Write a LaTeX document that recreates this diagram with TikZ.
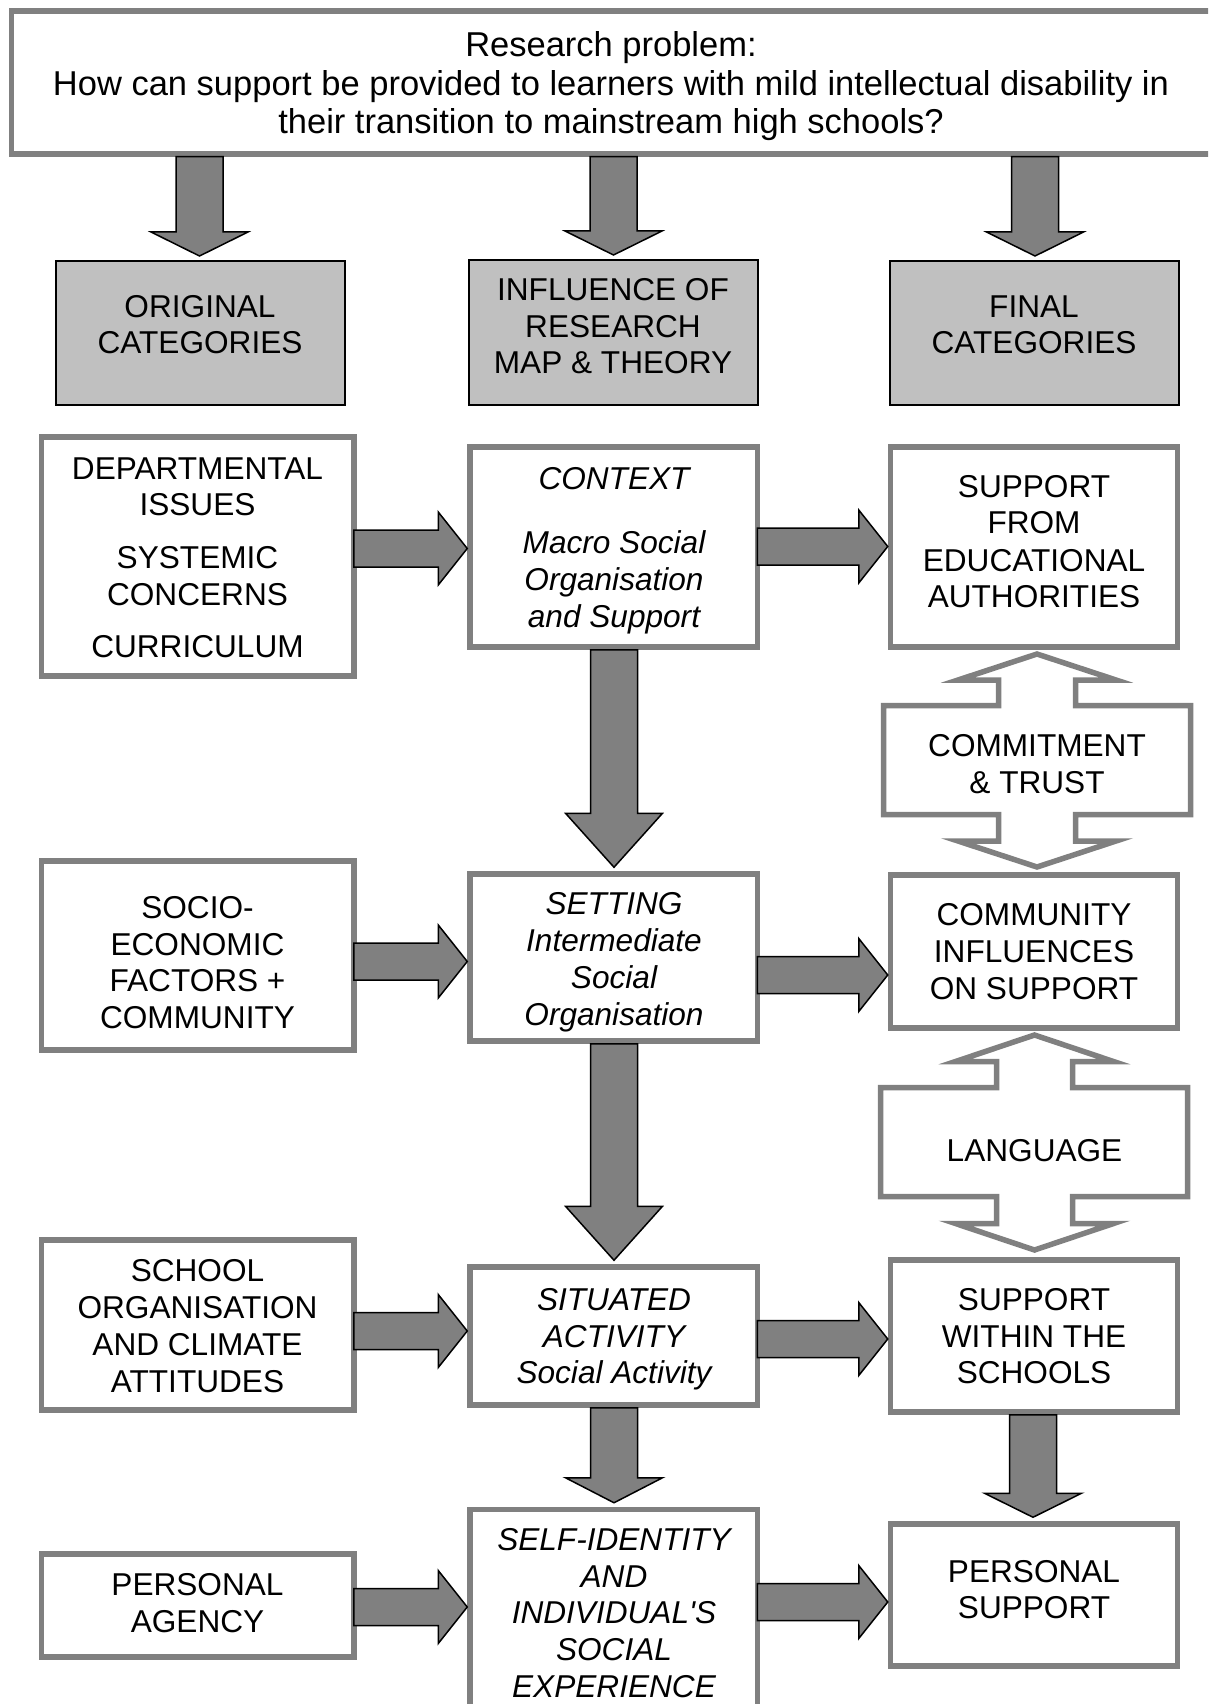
\documentclass[tikz,border=0pt]{standalone}
\usepackage{fontspec}
\setmainfont{Liberation Sans}
\usetikzlibrary{calc,fit}
\definecolor{framegray}{RGB}{128,128,128}
\definecolor{arrowgray}{RGB}{128,128,128}
\definecolor{headgray}{RGB}{192,192,192}
\tikzset{
  frame/.style={draw=framegray, line width=5.5pt, fill=white, inner sep=0pt, line join=miter},
  headbox/.style={draw=black, line width=2pt, fill=headgray, inner sep=0pt},
  blockarrow/.style={draw=black, line width=1.5pt, fill=arrowgray, line join=miter},
  txt/.style={anchor=base, inner sep=0pt, font=\fontsize{31.6}{36}\selectfont},
  itxt/.style={anchor=base, inner sep=0pt, font=\fontsize{31.6}{36}\selectfont\itshape},
  ttl/.style={anchor=base, inner sep=0pt, font=\fontsize{34.5}{39}\selectfont},
}
% block arrow pointing down: from node #1 to node #2 at x = #3, head length #4, name #5
\newcommand\darrow[5]{%
  \coordinate (#5-s) at (#3,0 |- #1.south);
  \coordinate (#5-t) at ($(#3,0 |- #2.north)+(0,-4)$);
  \draw[blockarrow] ($(#5-s)+(-23.5,0)$) -- ($(#5-t)+(-23.5,-#4)$) -- ++(-25,0) -- (#5-t)
    -- ($(#5-t)+(48.5,-#4)$) -- ++(-25,0) -- ($(#5-s)+(23.5,0)$) -- cycle;}
% block arrow pointing right: from node #1 to node #2 at y = #3, name #4
\newcommand\harrow[4]{%
  \coordinate (#4-s) at ($(#1.east |- 0,#3)+(-3,0)$);
  \coordinate (#4-t) at (#2.west |- 0,#3);
  \draw[blockarrow] ($(#4-s)+(0,-18.5)$) -- ($(#4-t)+(-29,-18.5)$) -- ++(0,-18) -- (#4-t)
    -- ($(#4-t)+(-29,36.5)$) -- ++(0,-18) -- ($(#4-s)+(0,18.5)$) -- cycle;}

\begin{document}
\begin{tikzpicture}[x=1pt,y=-1pt]
\path[use as bounding box] (0,0) rectangle (1208,1704);
\clip (0,0) rectangle (1208,1704);

% research problem
\node[frame, fit={(11.5,11) (1215,154)}] (problem) {};

% column headers
\node[headbox, fit={(56,261) (344.5,405)}] (hl) {};
\node[headbox, fit={(468.5,260) (757.5,405)}] (hm) {};
\node[headbox, fit={(890,261) (1178.5,405)}] (hr) {};

% category boxes
\node[frame, fit={(41.5,437) (354,676)}] (dept) {};
\node[frame, fit={(470,447) (757.5,647)}] (ctx) {};
\node[frame, fit={(890.5,447) (1177.5,647)}] (sfrom) {};

\node[frame, fit={(41.5,861) (354,1050)}] (socio) {};
\node[frame, fit={(470,874) (757.5,1041)}] (set) {};
\node[frame, fit={(890.5,875) (1177.5,1028)}] (comm) {};

\node[frame, fit={(41.5,1240) (354,1410)}] (school) {};
\node[frame, fit={(470,1267) (757.5,1405)}] (sit) {};
\node[frame, fit={(890.5,1260) (1177.5,1412)}] (sch) {};

\node[frame, fit={(41.5,1554) (354,1657)}] (agency) {};
\node[frame, fit={(470,1509.5) (757.5,1730)}] (self) {};
\node[frame, fit={(890.5,1524) (1177.5,1666)}] (psup) {};

% up-down callouts between the final categories
\draw[frame] (1037,654) -- (1116,680) -- (1075.5,680) -- (1075.5,705.5) -- (1190.5,705.5)
  -- (1190.5,814.5) -- (1075.5,814.5) -- (1075.5,841) -- (1116,841) -- (1037,867)
  -- (958,841) -- (998.5,841) -- (998.5,814.5) -- (883.5,814.5) -- (883.5,705.5)
  -- (998.5,705.5) -- (998.5,680) -- (958,680) -- cycle;
\draw[frame] (1034.5,1035) -- (1113.5,1061.5) -- (1072.5,1061.5) -- (1072.5,1087.5) -- (1187.5,1087.5)
  -- (1187.5,1196.5) -- (1072.5,1196.5) -- (1072.5,1223.5) -- (1113.5,1223.5) -- (1034.5,1250)
  -- (955.5,1223.5) -- (996.5,1223.5) -- (996.5,1196.5) -- (880.5,1196.5) -- (880.5,1087.5)
  -- (996.5,1087.5) -- (996.5,1061.5) -- (955.5,1061.5) -- cycle;

% block arrows
\darrow{problem}{hl}{199.5}{24}{a1}
\darrow{problem}{hm}{613.5}{24}{a2}
\darrow{problem}{hr}{1035}{24}{a3}
\darrow{ctx}{set}{614}{54}{a4}
\darrow{set}{sit}{614}{54}{a5}
\darrow{sit}{self}{614}{25}{a6}
\darrow{sch}{psup}{1033}{24}{a7}

\harrow{dept}{ctx}{548.5}{h1}
\harrow{ctx}{sfrom}{546.5}{h2}
\harrow{socio}{set}{961.5}{h3}
\harrow{set}{comm}{975}{h4}
\harrow{school}{sit}{1331}{h5}
\harrow{sit}{sch}{1339}{h6}
\harrow{agency}{self}{1607}{h7}
\harrow{self}{psup}{1602}{h8}

% texts
\foreach \yb/\words [count=\i] in {57/Research problem:,
  96/How can support be provided to learners with mild intellectual disability in,
  134/their transition to mainstream high schools?}
  \node[ttl] (problem-\i) at (611,\yb) {\words};

\foreach \yb/\words [count=\i] in {317/ORIGINAL, 353/CATEGORIES}
  \node[txt] (hl-\i) at (200,\yb) {\words};
\foreach \yb/\words [count=\i] in {300/INFLUENCE OF, 337/RESEARCH, 373/MAP \& THEORY}
  \node[txt] (hm-\i) at (613,\yb) {\words};
\foreach \yb/\words [count=\i] in {317/FINAL, 353/CATEGORIES}
  \node[txt] (hr-\i) at (1034,\yb) {\words};

\foreach \yb/\words [count=\i] in {479/DEPARTMENTAL, 515/ISSUES, 568/SYSTEMIC, 605/CONCERNS, 657/CURRICULUM}
  \node[txt] (dept-\i) at (197.5,\yb) {\words};
\foreach \yb/\words [count=\i] in {489/CONTEXT, 553/Macro Social, 590/Organisation, 627/and Support}
  \node[itxt] (ctx-\i) at (614,\yb) {\words};
\foreach \yb/\words [count=\i] in {497/SUPPORT, 533/FROM, 571/EDUCATIONAL, 607/AUTHORITIES}
  \node[txt] (sfrom-\i) at (1034,\yb) {\words};

\foreach \yb/\words [count=\i] in {756/COMMITMENT, 793/\& TRUST}
  \node[txt] (trust-\i) at (1037,\yb) {\words};

\foreach \yb/\words [count=\i] in {918/SOCIO-, 955/ECONOMIC, 991/FACTORS +, 1028/COMMUNITY}
  \node[txt] (socio-\i) at (197.5,\yb) {\words};
\foreach \yb/\words [count=\i] in {914/SETTING, 951/Intermediate, 988/Social, 1025/Organisation}
  \node[itxt] (set-\i) at (614,\yb) {\words};
\foreach \yb/\words [count=\i] in {925/COMMUNITY, 962/INFLUENCES, 999/ON SUPPORT}
  \node[txt] (comm-\i) at (1034,\yb) {\words};

\node[txt] (lang) at (1034.5,1161) {LANGUAGE};

\foreach \yb/\words [count=\i] in {1281.5/SCHOOL, 1318/ORGANISATION, 1355/AND CLIMATE, 1392/ATTITUDES}
  \node[txt] (school-\i) at (197.5,\yb) {\words};
\foreach \yb/\words [count=\i] in {1310/SITUATED, 1347/ACTIVITY, 1383/Social Activity}
  \node[itxt] (sit-\i) at (614,\yb) {\words};
\foreach \yb/\words [count=\i] in {1310/SUPPORT, 1347/WITHIN THE, 1383/SCHOOLS}
  \node[txt] (sch-\i) at (1034,\yb) {\words};

\foreach \yb/\words [count=\i] in {1595/PERSONAL, 1632/AGENCY}
  \node[txt] (agency-\i) at (197.5,\yb) {\words};
\foreach \yb/\words [count=\i] in {1550/SELF-IDENTITY, 1587/AND, 1623/INDIVIDUAL\textquotesingle S, 1660/SOCIAL, 1697/EXPERIENCE}
  \node[itxt] (self-\i) at (614,\yb) {\words};
\foreach \yb/\words [count=\i] in {1582/PERSONAL, 1618/SUPPORT}
  \node[txt] (psup-\i) at (1034,\yb) {\words};
\end{tikzpicture}
\end{document}
